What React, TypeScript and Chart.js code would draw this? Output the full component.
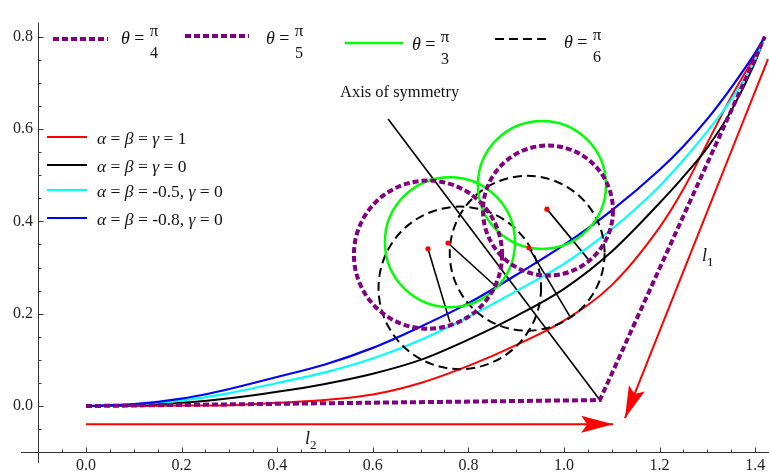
import React, { useEffect, useRef } from 'react';
import { Chart, registerables } from 'chart.js';
Chart.register(...registerables);

// ---------- data ----------
const curveX = [0, 0.1, 0.2, 0.3, 0.4, 0.5, 0.6, 0.7, 0.8, 0.9, 1.0, 1.1, 1.2, 1.25, 1.3, 1.35, 1.4, 1.42];
const redY   = [0, 0.000, 0.001, 0.002, 0.007, 0.013, 0.025, 0.050, 0.087, 0.132, 0.185, 0.262, 0.387, 0.470, 0.570, 0.670, 0.760, 0.80];
const blackY = [0, 0.002, 0.007, 0.017, 0.031, 0.048, 0.070, 0.100, 0.144, 0.195, 0.254, 0.335, 0.440, 0.497, 0.560, 0.640, 0.745, 0.80];
const cyanY  = [0, 0.003, 0.012, 0.028, 0.050, 0.073, 0.103, 0.143, 0.193, 0.249, 0.308, 0.383, 0.476, 0.533, 0.595, 0.664, 0.750, 0.80];
const blueY  = [0, 0.004, 0.016, 0.037, 0.063, 0.090, 0.126, 0.172, 0.223, 0.284, 0.349, 0.424, 0.512, 0.563, 0.622, 0.690, 0.765, 0.80];

const pathX = [0, 1.075, 1.42];
const pathY = [0, 0.013, 0.80];

const symmetryX = [0.632, 1.075];
const symmetryY = [0.622, 0.013];

const normalStartX = [0.7155, 0.7573, 0.9268, 0.9644];
const normalStartY = [0.3407, 0.3532, 0.3428, 0.4266];
const normalEndX = [0.7615, 0.8598, 1.0126, 1.0544];
const normalEndY = [0.1813, 0.2568, 0.1939, 0.3134];

const arrowL2X = [0, 1.103];
const arrowL2Y = [-0.0395, -0.0395];
const arrowL1X = [1.4268, 1.1276];
const arrowL1Y = [0.7516, -0.0262];

// circles: purple (θ=π/4, π/5), green (θ=π/3), dashed (θ=π/6)
const purpleCX = [0.7155, 0.9665];
const purpleCY = [0.328, 0.4235];
const purpleR = [0.155, 0.136];
const greenCX = [0.7615, 0.954];
const greenCY = [0.355, 0.479];
const greenR = [0.136, 0.134];
const dashCX = [0.782, 0.923];
const dashCY = [0.256, 0.331];
const dashR = [0.170, 0.162];

const xTickLabels = ['0.0', '0.2', '0.4', '0.6', '0.8', '1.0', '1.2', '1.4'];
const yTickLabels = ['0.0', '0.2', '0.4', '0.6', '0.8'];
const thetaDenoms = ['4', '5', '3', '6'];
const paramLegend: [string, boolean][][] = [
  [['α', true], [' = ', false], ['β', true], [' = ', false], ['γ', true], [' = 1', false]],
  [['α', true], [' = ', false], ['β', true], [' = ', false], ['γ', true], [' = 0', false]],
  [['α', true], [' = ', false], ['β', true], [' = -0.5, ', false], ['γ', true], [' = 0', false]],
  [['α', true], [' = ', false], ['β', true], [' = -0.8, ', false], ['γ', true], [' = 0', false]],
];
const paramColors = ['#ff0000', '#000000', '#00ffff', '#0000ff'];

const PURPLE = '#800080';
const GREEN = '#00ff00';
const FONT = "'Liberation Serif', 'Times New Roman', serif";

const pts = (xs: number[], ys: number[]) => xs.map((x, i) => ({ x, y: ys[i] }));

function richText(ctx: CanvasRenderingContext2D, x: number, y: number, parts: [string, boolean][], size: number) {
  let cx = x;
  for (const [t, it] of parts) {
    ctx.font = `${it ? 'italic ' : ''}${size}px ${FONT}`;
    ctx.fillText(t, cx, y);
    cx += ctx.measureText(t).width;
  }
  return cx;
}

function setStyle(ctx: CanvasRenderingContext2D, kind: string) {
  if (kind === 'purple') {
    ctx.strokeStyle = PURPLE; ctx.lineWidth = 4; ctx.setLineDash([6, 3]);
  } else if (kind === 'green') {
    ctx.strokeStyle = GREEN; ctx.lineWidth = 2.5; ctx.setLineDash([]);
  } else {
    ctx.strokeStyle = '#000'; ctx.lineWidth = 2; ctx.setLineDash([9, 5]);
  }
}

const overlay = {
  id: 'overlay',
  beforeDatasetsDraw(chart: any) {
    const ctx: CanvasRenderingContext2D = chart.ctx;
    const xs = chart.scales.x, ys = chart.scales.y;
    const X0 = Math.round(xs.getPixelForValue(-0.1)) + 0.5;
    const Y0 = Math.round(ys.getPixelForValue(-0.1)) + 0.5;
    ctx.save();
    ctx.strokeStyle = '#333';
    ctx.lineWidth = 1;
    ctx.beginPath();
    ctx.moveTo(X0, ys.getPixelForValue(0.831));
    ctx.lineTo(X0, ys.getPixelForValue(-0.123));
    ctx.moveTo(xs.getPixelForValue(-0.136), Y0);
    ctx.lineTo(chart.width, Y0);
    for (let k = -1; k <= 28; k++) {
      const v = k * 0.05;
      const p = Math.round(xs.getPixelForValue(v)) + 0.5;
      const len = k % 4 === 0 ? 5 : 3;
      ctx.moveTo(p, Y0);
      ctx.lineTo(p, Y0 - len);
    }
    for (let k = -1; k <= 16; k++) {
      const v = k * 0.05;
      const p = Math.round(ys.getPixelForValue(v)) + 0.5;
      const len = k % 4 === 0 ? 5 : 3;
      ctx.moveTo(X0, p);
      ctx.lineTo(X0 + len, p);
    }
    ctx.stroke();
    ctx.restore();
  },
  afterDatasetsDraw(chart: any) {
    const ctx: CanvasRenderingContext2D = chart.ctx;
    const xs = chart.scales.x, ys = chart.scales.y;
    const px = (v: number) => xs.getPixelForValue(v);
    const py = (v: number) => ys.getPixelForValue(v);
    ctx.save();
    const drawCircles = (cx: number[], cy: number[], r: number[], kind: string) => {
      for (let i = 0; i < cx.length; i++) {
        setStyle(ctx, kind);
        ctx.beginPath();
        ctx.arc(px(cx[i]), py(cy[i]), px(cx[i] + r[i]) - px(cx[i]), 0, Math.PI * 2);
        ctx.stroke();
      }
    };
    drawCircles(dashCX, dashCY, dashR, 'dash');
    drawCircles(greenCX, greenCY, greenR, 'green');
    drawCircles(purpleCX, purpleCY, purpleR, 'purple');
    ctx.setLineDash([]);
    ctx.fillStyle = '#ff0000';
    for (let i = 0; i < normalStartX.length; i++) {
      ctx.beginPath();
      ctx.arc(px(normalStartX[i]), py(normalStartY[i]), 2.6, 0, Math.PI * 2);
      ctx.fill();
    }
    const head = (ax: number[], ay: number[]) => {
      const sx = px(ax[0]), sy = py(ay[0]);
      const tx = px(ax[1]), ty = py(ay[1]);
      const d = Math.hypot(tx - sx, ty - sy);
      const ux = (tx - sx) / d, uy = (ty - sy) / d;
      const nx = -uy, ny = ux;
      const L = 32, W = 8.5, N = 6;
      ctx.fillStyle = '#ff0000';
      ctx.beginPath();
      ctx.moveTo(tx, ty);
      ctx.lineTo(tx - L * ux + W * nx, ty - L * uy + W * ny);
      ctx.lineTo(tx - (L - N) * ux, ty - (L - N) * uy);
      ctx.lineTo(tx - L * ux - W * nx, ty - L * uy - W * ny);
      ctx.closePath();
      ctx.fill();
    };
    head(arrowL2X, arrowL2Y);
    head(arrowL1X, arrowL1Y);

    ctx.fillStyle = '#111';
    ctx.textBaseline = 'middle';
    ctx.textAlign = 'left';
    ctx.font = `16.5px ${FONT}`;
    ctx.fillText('Axis of symmetry', 340, 93);
    ctx.font = `italic 18px ${FONT}`;
    ctx.fillText('l', 305, 439);
    ctx.font = `13px ${FONT}`;
    ctx.fillText('2', 310, 446);
    ctx.font = `italic 18px ${FONT}`;
    ctx.fillText('l', 702, 256);
    ctx.font = `13px ${FONT}`;
    ctx.fillText('1', 707, 263);

    const rowY = [137, 165, 190, 218];
    for (let i = 0; i < paramLegend.length; i++) {
      ctx.strokeStyle = paramColors[i];
      ctx.lineWidth = 2;
      ctx.beginPath();
      ctx.moveTo(47, rowY[i]);
      ctx.lineTo(87, rowY[i]);
      ctx.stroke();
      ctx.fillStyle = '#111';
      richText(ctx, 97, rowY[i] + 2, paramLegend[i], 17.5);
    }

    const items = [
      { x1: 53, x2: 108, ly: 39, tx: 121, ty: 39, kind: 'purple' },
      { x1: 185, x2: 249, ly: 36, tx: 266, ty: 39, kind: 'purple' },
      { x1: 345, x2: 403, ly: 43, tx: 412, ty: 45, kind: 'green' },
      { x1: 495, x2: 546, ly: 39, tx: 564, ty: 43, kind: 'dash' },
    ];
    items.forEach((it, i) => {
      setStyle(ctx, it.kind);
      ctx.beginPath();
      ctx.moveTo(it.x1, it.ly);
      ctx.lineTo(it.x2, it.ly);
      ctx.stroke();
      ctx.setLineDash([]);
      ctx.fillStyle = '#111';
      ctx.textAlign = 'left';
      const end = richText(ctx, it.tx, it.ty, [['θ', true], [' = ', false]], 18);
      ctx.textAlign = 'center';
      ctx.font = `17px ${FONT}`;
      ctx.fillText('π', end + 5, it.ty - 7);
      ctx.font = `16px ${FONT}`;
      ctx.fillText(thetaDenoms[i], end + 5, it.ty + 15);
      ctx.textAlign = 'left';
    });
    ctx.restore();
  },
};

export default function App() {
  const ref = useRef<HTMLCanvasElement>(null);
  useEffect(() => {
    if (!ref.current) return;
    const line = (data: any[], color: string, width: number, order: number, extra: any = {}) => ({
      data, borderColor: color, borderWidth: width, pointRadius: 0, showLine: true, fill: false,
      order, ...extra,
    });
    const smooth = { cubicInterpolationMode: 'monotone' };
    const chart = new Chart(ref.current, {
      type: 'scatter',
      data: {
        datasets: [
          line(pts(pathX, pathY), PURPLE, 4, 0, { borderDash: [6, 3], borderCapStyle: 'butt' }),
          line(pts(curveX, blueY), '#0000ff', 2.2, 1, smooth),
          line(pts(curveX, cyanY), '#00ffff', 2.2, 2, smooth),
          line(pts(curveX, blackY), '#000000', 2, 3, smooth),
          line(pts(curveX, redY), '#ff0000', 2, 4, smooth),
          line(pts(symmetryX, symmetryY), '#000000', 1.6, 5),
          ...normalStartX.map((_, i) =>
            line(pts([normalStartX[i], normalEndX[i]], [normalStartY[i], normalEndY[i]]), '#000000', 1.6, 5)),
          line(pts(arrowL2X, arrowL2Y), '#ff0000', 2, 6),
          line(pts(arrowL1X, arrowL1Y), '#ff0000', 2, 6),
        ] as any,
      },
      options: {
        animation: false,
        responsive: false,
        maintainAspectRatio: false,
        layout: { padding: 0 },
        plugins: { legend: { display: false }, tooltip: { enabled: false } },
        elements: { line: { tension: 0 } },
        scales: {
          x: {
            type: 'linear', min: -0.1004, max: 1.4289,
            grid: { display: false, drawTicks: false }, border: { display: false },
            afterFit: (s: any) => { s.height = 23; },
            ticks: {
              stepSize: 0.2, autoSkip: false, maxRotation: 0, minRotation: 0, includeBounds: false,
              padding: 3, color: '#222', font: { family: FONT, size: 16 },
              callback: (v: any) => {
                const n = Number(v); const k = Math.round(n / 0.2);
                return Math.abs(n - k * 0.2) < 1e-6 && k >= 0 && k < xTickLabels.length ? xTickLabels[k] : '';
              },
            },
          },
          y: {
            type: 'linear', min: -0.1017, max: 0.848,
            grid: { display: false, drawTicks: false }, border: { display: false },
            afterFit: (s: any) => { s.width = 38; },
            ticks: {
              stepSize: 0.2, autoSkip: false, includeBounds: false,
              padding: 5, color: '#222', font: { family: FONT, size: 16 },
              callback: (v: any) => {
                const n = Number(v); const k = Math.round(n / 0.2);
                return Math.abs(n - k * 0.2) < 1e-6 && k >= 0 && k < yTickLabels.length ? yTickLabels[k] : '';
              },
            },
          },
        },
      } as any,
      plugins: [overlay],
    });
    return () => chart.destroy();
  }, []);
  return (
    <div style={{ position: 'absolute', left: 0, top: 0, width: 769, height: 476, background: '#fff' }}>
      <canvas ref={ref} width={769} height={476} style={{ display: 'block' }} />
    </div>
  );
}
